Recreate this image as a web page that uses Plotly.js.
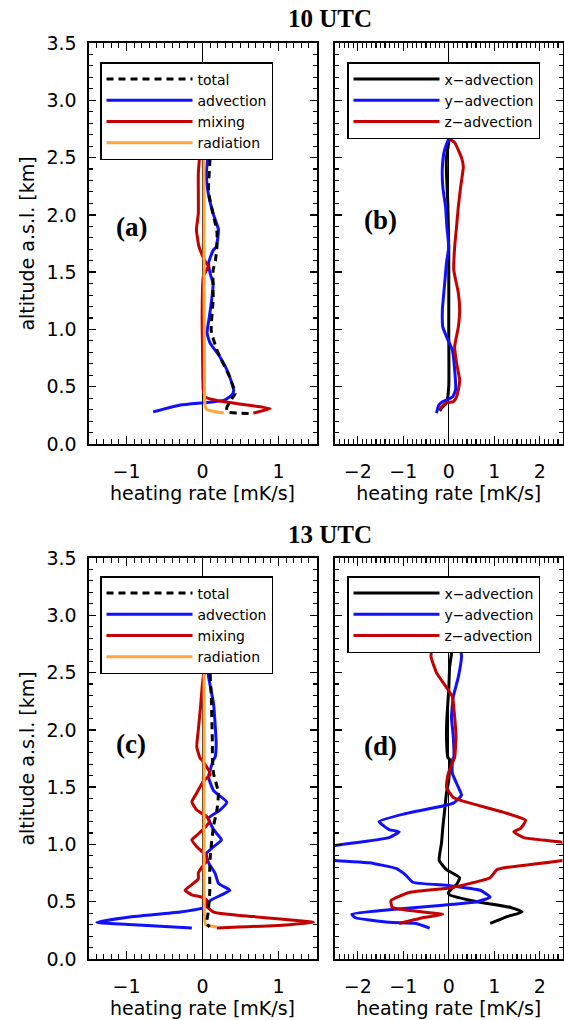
<!DOCTYPE html>
<html>
<head>
<meta charset="utf-8">
<script src="https://cdn.plot.ly/plotly-3.0.1.min.js"></script>
<style>html,body{margin:0;padding:0;background:#fff;}#chart{width:564px;height:1020px;}</style>
</head>
<body>
<div id="chart"></div>
<script>
// ---------- Panel (a): 10 UTC budget ----------
const a_total_alt = [2.80,2.63,2.50,2.20,1.85,1.72,1.60,1.52,1.26,0.99,0.82,0.58,0.44,0.40,0.32,0.28,0.27,0.265];
const a_total     = [0.10,0.10,0.10,0.08,0.19,0.19,0.17,0.14,0.14,0.115,0.19,0.36,0.43,0.39,0.32,0.32,0.50,0.67];
const a_adv_alt   = [2.80,2.63,2.54,2.36,2.19,2.01,1.87,1.72,1.69,1.58,1.49,1.40,1.23,1.11,0.97,0.88,0.76,0.62,0.47,0.43,0.38,0.36,0.34,0.28];
const a_adv       = [0.07,0.06,0.075,0.05,0.075,0.14,0.21,0.18,0.14,0.08,0.10,0.14,0.115,0.09,0.06,0.10,0.23,0.34,0.41,0.39,0.28,0.01,-0.29,-0.65];
const a_mix_alt   = [2.80,2.59,2.36,2.01,1.87,1.72,1.60,1.55,1.46,1.10,0.85,0.47,0.41,0.38,0.34,0.31,0.27];
const a_mix       = [-0.03,-0.03,-0.055,-0.055,-0.08,-0.045,0.03,0.075,0.01,-0.005,0.0,0.01,0.035,0.19,0.59,0.89,0.67];
const a_rad_alt   = [2.80,1.50,0.80,0.36,0.32,0.30,0.27];
const a_rad       = [0.02,0.02,0.025,0.03,0.04,0.06,0.28];

// ---------- Panel (b): 10 UTC advection components ----------
const b_x_alt = [2.85,2.77,2.68,2.50,2.36,2.10,1.70,1.00,0.50,0.36,0.32,0.29];
const b_x     = [0.05,0.06,0.02,-0.05,-0.05,-0.02,0.0,0.0,0.0,-0.05,-0.14,-0.20];
const b_y_alt = [2.85,2.77,2.68,2.57,2.42,2.24,2.07,1.89,1.72,1.58,1.40,1.17,1.02,0.91,0.82,0.65,0.47,0.41,0.37,0.34,0.30,0.27];
const b_y     = [0.20,0.13,0.02,-0.09,-0.14,-0.13,-0.07,-0.04,0.0,-0.05,-0.09,-0.14,-0.13,-0.02,0.08,0.13,0.15,0.08,-0.13,-0.22,-0.25,-0.27];
const b_z_alt = [2.85,2.77,2.70,2.63,2.50,2.42,2.24,2.07,1.89,1.72,1.52,1.32,1.17,1.02,0.85,0.71,0.56,0.47,0.41,0.37,0.36,0.32,0.30];
const b_z     = [-0.45,-0.31,-0.09,0.13,0.28,0.32,0.26,0.21,0.17,0.13,0.11,0.21,0.24,0.21,0.13,0.17,0.24,0.21,0.17,0.10,-0.05,-0.16,-0.20];

// ---------- Panel (c): 13 UTC budget ----------
const c_total_alt = [2.80,2.50,2.30,1.88,1.76,1.62,1.45,1.30,1.16,0.92,0.78,0.58,0.41,0.31,0.28];
const c_total     = [0.10,0.10,0.115,0.13,0.13,0.145,0.21,0.19,0.145,0.105,0.095,0.095,0.075,0.055,0.095];
const c_adv_alt   = [2.80,2.58,2.46,2.23,2.06,1.88,1.76,1.74,1.59,1.47,1.37,1.30,1.23,1.13,1.04,0.98,0.92,0.84,0.75,0.66,0.60,0.56,0.51,0.45,0.41,0.37,0.32,0.30,0.27];
const c_adv       = [0.05,0.06,0.08,0.145,0.165,0.18,0.165,0.145,0.08,0.145,0.32,0.23,0.08,0.145,0.25,0.145,0.05,0.08,0.165,0.21,0.36,0.25,0.10,0.02,-0.295,-0.91,-1.39,-0.91,-0.14];
const c_mix_alt   = [2.80,2.61,2.55,2.46,2.17,2.00,1.85,1.75,1.74,1.65,1.61,1.55,1.45,1.37,1.30,1.24,1.20,1.15,1.08,1.04,0.98,0.91,0.86,0.80,0.75,0.70,0.65,0.60,0.56,0.54,0.51,0.47,0.41,0.37,0.32,0.30,0.27];
const c_mix       = [0.10,0.08,0.06,0.01,-0.03,-0.055,-0.075,-0.03,-0.01,0.08,0.10,0.01,-0.075,-0.14,-0.075,0.06,0.09,0.035,-0.075,-0.14,-0.075,0.035,0.06,-0.01,-0.055,-0.055,-0.14,-0.23,-0.14,-0.01,0.06,0.04,0.145,0.67,1.46,1.15,0.19];
const c_rad_alt   = [2.80,1.00,0.40,0.30,0.28];
const c_rad       = [0.02,0.02,0.025,0.04,0.19];

// ---------- Panel (d): 13 UTC advection components ----------
const d_x_alt = [2.85,2.77,2.55,2.35,2.11,1.94,1.76,1.74,1.56,1.45,1.30,1.15,1.01,0.86,0.78,0.71,0.65,0.58,0.56,0.50,0.45,0.41,0.37,0.31];
const d_x     = [0.12,0.10,0.02,0.0,-0.04,-0.05,-0.02,0.02,0.0,-0.05,-0.09,-0.13,-0.16,-0.21,-0.05,0.24,0.17,-0.01,0.02,0.62,1.36,1.61,1.28,0.91];
const d_y_alt = [2.85,2.77,2.64,2.46,2.29,2.11,1.94,1.76,1.74,1.62,1.50,1.43,1.36,1.27,1.20,1.13,1.11,1.06,0.99,0.93,0.86,0.84,0.79,0.73,0.67,0.64,0.60,0.54,0.50,0.47,0.43,0.39,0.36,0.32,0.31,0.27];
const d_y     = [0.20,0.24,0.28,0.21,0.10,0.06,0.10,0.11,0.08,0.08,0.21,0.28,0.10,-0.94,-1.53,-1.31,-1.09,-1.31,-2.5,-3.3,-2.5,-1.75,-1.16,-0.94,-0.79,0.02,0.69,0.91,0.62,-0.13,-1.31,-2.13,-2.05,-1.31,-0.72,-0.42];
const d_z_alt = [2.85,2.77,2.64,2.50,2.37,2.29,2.11,1.94,1.76,1.74,1.62,1.50,1.41,1.36,1.28,1.21,1.14,1.11,1.06,1.02,0.94,0.86,0.80,0.78,0.71,0.66,0.62,0.58,0.51,0.45,0.41,0.39,0.36,0.31];
const d_z     = [-0.33,-0.35,-0.39,-0.27,-0.05,0.08,0.13,0.16,0.13,0.11,-0.01,-0.05,0.10,0.47,1.21,1.69,1.58,1.43,1.65,2.47,3.2,2.5,1.28,1.06,0.91,0.47,0.02,-0.87,-1.27,-1.24,-0.57,-0.13,-0.57,-1.09];

// ---------- labels ----------
const budgetNames = ['total','advection','mixing','radiation'];
const compNames = ['x\u2212advection','y\u2212advection','z\u2212advection'];
const timeTitles = ['10 UTC','13 UTC'];
const panelLabels = ['(a)','(b)','(c)','(d)'];
const xTitle = 'heating rate [mK/s]';
const yTitle = 'altitude a.s.l. [km]';

// ---------- styling ----------
const W = 564, H = 1020;
const PX = v => v / W, PY = v => 1 - v / H;
const BLACK = '#000000', BLUE = '#1010ff', RED = '#c40000', ORANGE = '#ffa53c';
const LW = 3;

function tr(x, y, name, color, dash, xa, ya, leg, rank) {
  return {x: x, y: y, name: name, type: 'scatter', mode: 'lines',
    line: {color: color, width: LW, dash: dash || 'solid', shape: 'spline', smoothing: 0.45},
    xaxis: xa, yaxis: ya, legend: leg, legendrank: rank, hoverinfo: 'skip'};
}

const data = [
  tr(a_adv, a_adv_alt, budgetNames[1], BLUE, null, 'x', 'y', 'legend', 2),
  tr(a_mix, a_mix_alt, budgetNames[2], RED, null, 'x', 'y', 'legend', 3),
  tr(a_rad, a_rad_alt, budgetNames[3], ORANGE, null, 'x', 'y', 'legend', 4),
  tr(a_total, a_total_alt, budgetNames[0], BLACK, '7px,5px', 'x', 'y', 'legend', 1),

  tr(b_x, b_x_alt, compNames[0], BLACK, null, 'x2', 'y2', 'legend2', 1),
  tr(b_y, b_y_alt, compNames[1], BLUE, null, 'x2', 'y2', 'legend2', 2),
  tr(b_z, b_z_alt, compNames[2], RED, null, 'x2', 'y2', 'legend2', 3),

  tr(c_adv, c_adv_alt, budgetNames[1], BLUE, null, 'x3', 'y3', 'legend3', 2),
  tr(c_mix, c_mix_alt, budgetNames[2], RED, null, 'x3', 'y3', 'legend3', 3),
  tr(c_rad, c_rad_alt, budgetNames[3], ORANGE, null, 'x3', 'y3', 'legend3', 4),
  tr(c_total, c_total_alt, budgetNames[0], BLACK, '7px,5px', 'x3', 'y3', 'legend3', 1),

  tr(d_x, d_x_alt, compNames[0], BLACK, null, 'x4', 'y4', 'legend4', 1),
  tr(d_y, d_y_alt, compNames[1], BLUE, null, 'x4', 'y4', 'legend4', 2),
  tr(d_z, d_z_alt, compNames[2], RED, null, 'x4', 'y4', 'legend4', 3)
];

const FONT = 'DejaVu Sans, sans-serif';
const tickFont = {family: FONT, size: 19, color: BLACK};
const titleFont = {family: FONT, size: 19, color: BLACK};

function xAxis(domain, range, anchor) {
  return {domain: domain, range: range, anchor: anchor, dtick: 1, tick0: 0,
    ticks: 'inside', ticklen: 8, tickwidth: 1.3, tickcolor: BLACK,
    minor: {dtick: 0.1, ticks: 'inside', ticklen: 5, tickwidth: 1.1, tickcolor: BLACK},
    showline: true, linecolor: BLACK, linewidth: 2, mirror: 'ticks',
    showgrid: false, zeroline: true, zerolinecolor: BLACK, zerolinewidth: 1.2,
    tickfont: tickFont, ticklabelstandoff: 9,
    title: {text: xTitle, font: titleFont, standoff: 5}, fixedrange: true};
}
function yAxis(domain, anchor, showLabels) {
  return {domain: domain, range: [0, 3.5], anchor: anchor, dtick: 0.5, tick0: 0, tickformat: '.1f',
    ticks: 'inside', ticklen: 7, tickwidth: 1.3, tickcolor: BLACK,
    minor: {dtick: 0.1, ticks: 'inside', ticklen: 4, tickwidth: 1.1, tickcolor: BLACK},
    showline: true, linecolor: BLACK, linewidth: 2, mirror: 'ticks',
    showgrid: false, zeroline: false,
    showticklabels: showLabels, tickfont: tickFont, ticklabelstandoff: 6,
    title: showLabels ? {text: yTitle, font: titleFont, standoff: 7} : {text: ''}, fixedrange: true};
}

const xL = [PX(88.5), PX(316.5)], xR = [PX(335), PX(562.5)];
const yT = [1 - 444 / H, 1 - 43 / H], yB = [1 - 959 / H, 1 - 558 / H];

function legendAt(left, top) {
  return {x: PX(left), y: PY(top), xanchor: 'left', yanchor: 'top',
    bgcolor: '#ffffff', bordercolor: BLACK, borderwidth: 1.5,
    font: {family: FONT, size: 14, color: BLACK}, itemwidth: 86, tracegroupgap: 0};
}

const ann = (text, x, y, size) => ({text: text, x: PX(x), y: PY(y), xref: 'paper', yref: 'paper',
  showarrow: false, xanchor: 'center', yanchor: 'middle',
  font: {family: 'Liberation Serif, Times New Roman, serif', size: size, color: BLACK, weight: 'bold'}});

const layout = {
  width: W, height: H, margin: {l: 0, r: 0, t: 0, b: 0},
  paper_bgcolor: '#ffffff', plot_bgcolor: '#ffffff', showlegend: true,
  xaxis: xAxis(xL, [-1.5, 1.5], 'y'),
  yaxis: yAxis(yT, 'x', true),
  xaxis2: xAxis(xR, [-2.5, 2.5], 'y2'),
  yaxis2: yAxis(yT, 'x2', false),
  xaxis3: xAxis(xL, [-1.5, 1.5], 'y3'),
  yaxis3: yAxis(yB, 'x3', true),
  xaxis4: xAxis(xR, [-2.5, 2.5], 'y4'),
  yaxis4: yAxis(yB, 'x4', false),
  legend: legendAt(100, 62),
  legend2: legendAt(347, 62),
  legend3: legendAt(100, 576),
  legend4: legendAt(347, 576),
  annotations: [
    ann('<b>' + timeTitles[0] + '</b>', 330, 18, 25),
    ann('<b>' + timeTitles[1] + '</b>', 330, 534, 25),
    ann('<b>' + panelLabels[0] + '</b>', 131, 227, 27),
    ann('<b>' + panelLabels[1] + '</b>', 380, 220, 27),
    ann('<b>' + panelLabels[2] + '</b>', 131, 744, 27),
    ann('<b>' + panelLabels[3] + '</b>', 380, 746, 27)
  ]
};

Plotly.newPlot('chart', data, layout, {staticPlot: true, displayModeBar: false});
</script>
</body>
</html>
